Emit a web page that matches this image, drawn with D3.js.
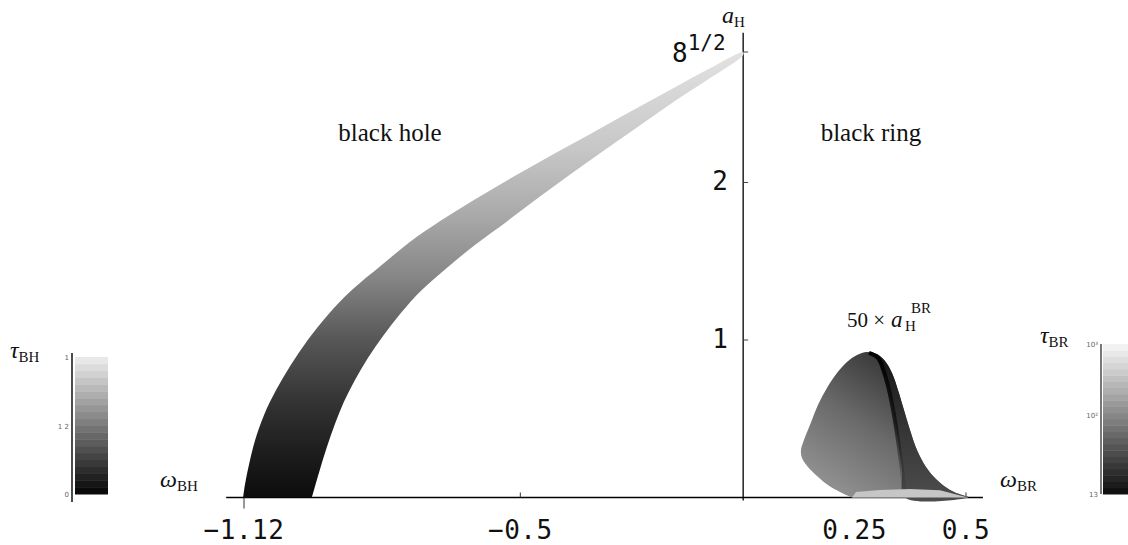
<!DOCTYPE html>
<html><head><meta charset="utf-8">
<script src="https://cdn.jsdelivr.net/npm/d3@7"></script>
<style>body{margin:0;background:#fff}</style>
</head><body>
<svg id="c" width="1128" height="545"></svg>
<script>
// ---------- data ----------
const xTicks = [-1.12, -0.5, 0.25, 0.5];
const xTickLabels = ["\u22121.12", "\u22120.5", "0.25", "0.5"];
const yTicks = [1, 2, Math.sqrt(8)];
const yTickLabels = ["1", "2", "8"];

// black hole band: upper/left edge (bottom -> top), lower/right edge (top -> bottom)
const bhUpperEdge = [[-1.122,0.0],[-1.118,0.079],[-1.109,0.206],[-1.095,0.365],[-1.075,0.524],[-1.048,0.682],[-1.015,0.841],[-0.977,1.000],[-0.932,1.159],[-0.878,1.317],[-0.811,1.476],[-0.748,1.622],[-0.680,1.755],[-0.606,1.886],[-0.530,2.013],[-0.456,2.132],[-0.382,2.247],[-0.306,2.366],[-0.232,2.482],[-0.158,2.597],[-0.081,2.715],[0.0,2.828]];
const bhLowerEdge = [[0.0,2.809],[-0.081,2.650],[-0.158,2.508],[-0.232,2.362],[-0.306,2.216],[-0.382,2.063],[-0.456,1.911],[-0.530,1.753],[-0.602,1.603],[-0.665,1.457],[-0.721,1.317],[-0.768,1.171],[-0.808,1.025],[-0.842,0.886],[-0.871,0.746],[-0.896,0.606],[-0.916,0.467],[-0.934,0.321],[-0.950,0.175],[-0.963,0.048],[-0.968,0.0]];
const bhShade = [[0,"#0c0c0c"],[0.3,"#1e1e1e"],[0.6,"#333333"],[1.0,"#575757"],[1.4,"#868686"],[1.8,"#aaaaaa"],[2.2,"#c6c6c6"],[2.6,"#d8d8d8"],[2.83,"#e2e2e2"]];

// black ring region (50 x a_H)
const brOutline = [[0.2442,0.0],[0.2172,0.035],[0.1903,0.079],[0.1656,0.137],[0.1454,0.194],[0.1320,0.251],[0.1297,0.302],[0.1364,0.365],[0.1499,0.460],[0.1678,0.587],[0.1880,0.695],[0.2105,0.790],[0.2329,0.860],[0.2554,0.905],[0.2778,0.924],[0.3002,0.911],[0.3182,0.867],[0.3339,0.790],[0.3473,0.683],[0.3608,0.556],[0.3743,0.429],[0.3900,0.302],[0.4102,0.194],[0.4349,0.111],[0.4641,0.048],[0.4910,0.016],[0.5045,0.003],[0.5045,0.0]];
const brStreak = [[0.2823,0.918],[0.3025,0.886],[0.3160,0.797],[0.3272,0.683],[0.3384,0.524],[0.3473,0.365],[0.3563,0.175],[0.3631,0.0]];
const brRightEdge = [[0.5045,0.0],[0.5045,0.003],[0.4910,0.016],[0.4641,0.048],[0.4349,0.111],[0.4102,0.194],[0.3900,0.302],[0.3743,0.429],[0.3608,0.556],[0.3473,0.683],[0.3339,0.790],[0.3182,0.867],[0.3002,0.911]];
const brBottomDots = [[0.2442,0.0],[0.2532,0.035],[0.3070,0.048],[0.3743,0.054],[0.4416,0.046],[0.4865,0.013],[0.5045,0.0]];

const bhBarTicks = [[0,"0"],[0.5,"1 2"],[1,"1"]];
const brBarTicks = [[0,"13"],[0.53,"10\u00b2"],[1,"10\u00b3"]];

// ---------- drawing ----------
const svg = d3.select("#c");
const x = d3.scaleLinear().domain([-1.12, 0.5]).range([244, 966]);
const y = d3.scaleLinear().domain([0, Math.sqrt(8)]).range([497.5, 52]);
const defs = svg.append("defs");
const serif = "'Liberation Serif','DejaVu Serif',serif";
const mono = "'DejaVu Sans Mono',monospace";

// axes lines
svg.append("line").attr("x1", x(-1.16)).attr("x2", x(0.538)).attr("y1", y(0)).attr("y2", y(0))
  .attr("stroke", "#000").attr("stroke-width", 1.3);
svg.append("line").attr("x1", x(0)).attr("x2", x(0)).attr("y1", y(2.95)).attr("y2", y(0) + 3)
  .attr("stroke", "#000").attr("stroke-width", 1.3);

// x ticks
xTicks.forEach((t, i) => {
  const down = i === 0;
  svg.append("line").attr("x1", x(t)).attr("x2", x(t))
    .attr("y1", y(0)).attr("y2", down ? y(0) + 11 : y(0) - 5)
    .attr("stroke", "#333").attr("stroke-width", 1);
  svg.append("text").attr("x", x(t)).attr("y", 539).attr("text-anchor", "middle")
    .attr("font-family", mono).attr("font-size", 26).attr("letter-spacing", 0.5)
    .attr("fill", "#111").text(xTickLabels[i]);
});
// y ticks
yTicks.forEach((t, i) => {
  svg.append("line").attr("x1", x(0)).attr("x2", x(0) + 5).attr("y1", y(t)).attr("y2", y(t))
    .attr("stroke", "#444").attr("stroke-width", 1);
  if (i < 2) {
    svg.append("text").attr("x", 720).attr("y", y(t) + 8).attr("text-anchor", "middle")
      .attr("font-family", mono).attr("font-size", 26).attr("fill", "#111").text(yTickLabels[i]);
  } else {
    const tx = svg.append("text").attr("x", 672).attr("y", y(t) + 10)
      .attr("font-family", mono).attr("font-size", 26).attr("fill", "#111");
    tx.append("tspan").text(yTickLabels[i]);
    tx.append("tspan").attr("dy", -12).attr("font-size", 21).text("1/2");
  }
});

// black hole band
const gBH = defs.append("linearGradient").attr("id", "gbh").attr("gradientUnits", "userSpaceOnUse")
  .attr("x1", 0).attr("x2", 0).attr("y1", y(0)).attr("y2", y(Math.sqrt(8)));
bhShade.forEach(s => gBH.append("stop").attr("offset", s[0] / Math.sqrt(8)).attr("stop-color", s[1]));
const line = d3.line().x(d => x(d[0])).y(d => y(d[1])).curve(d3.curveCatmullRom.alpha(0.5));
const lineLin = d3.line().x(d => x(d[0])).y(d => y(d[1]));
svg.append("path").attr("d", line(bhUpperEdge.concat(bhLowerEdge)) + "Z").attr("fill", "url(#gbh)");

// black ring
const gBR = defs.append("linearGradient").attr("id", "gbr").attr("gradientUnits", "userSpaceOnUse")
  .attr("x1", x(0.14)).attr("y1", y(0.2)).attr("x2", x(0.30)).attr("y2", y(0.9));
gBR.append("stop").attr("offset", 0).attr("stop-color", "#8e8e8e");
gBR.append("stop").attr("offset", 0.5).attr("stop-color", "#6a6a6a");
gBR.append("stop").attr("offset", 1).attr("stop-color", "#3a3a3a");
svg.append("path").attr("d", line(brOutline) + "Z").attr("fill", "url(#gbr)");

const gBRd = defs.append("linearGradient").attr("id", "gbrd").attr("gradientUnits", "userSpaceOnUse")
  .attr("x1", 0).attr("x2", 0).attr("y1", y(0.92)).attr("y2", y(0));
gBRd.append("stop").attr("offset", 0).attr("stop-color", "#151515");
gBRd.append("stop").attr("offset", 0.5).attr("stop-color", "#343434");
gBRd.append("stop").attr("offset", 1).attr("stop-color", "#4c4c4c");
svg.append("path").attr("d", line(brStreak.concat(brRightEdge)) + "Z").attr("fill", "url(#gbrd)");

const gStreak = defs.append("linearGradient").attr("id", "gst").attr("gradientUnits", "userSpaceOnUse")
  .attr("x1", 0).attr("x2", 0).attr("y1", y(0.92)).attr("y2", y(0));
gStreak.append("stop").attr("offset", 0).attr("stop-color", "#000").attr("stop-opacity", 1);
gStreak.append("stop").attr("offset", 0.5).attr("stop-color", "#111").attr("stop-opacity", 0.8);
gStreak.append("stop").attr("offset", 1).attr("stop-color", "#333").attr("stop-opacity", 0.1);
svg.append("path").attr("d", line(brStreak)).attr("fill", "none")
  .attr("stroke", "url(#gst)").attr("stroke-width", 4);

svg.append("path").attr("d", lineLin(brBottomDots) + "Z").attr("fill", "#c6c6c6");

// region labels
svg.append("text").attr("x", 390).attr("y", 141).attr("text-anchor", "middle")
  .attr("font-family", serif).attr("font-size", 25).attr("fill", "#111").text("black hole");
svg.append("text").attr("x", 871).attr("y", 141).attr("text-anchor", "middle")
  .attr("font-family", serif).attr("font-size", 25).attr("fill", "#111").text("black ring");

// math labels
function sym(px, py, main, sub, mainSize = 24) {
  const t = svg.append("text").attr("x", px).attr("y", py)
    .attr("font-family", serif).attr("font-size", mainSize).attr("fill", "#111");
  t.append("tspan").attr("font-style", "italic").text(main);
  if (sub) t.append("tspan").attr("font-size", 15).attr("dy", 4).text(sub);
  return t;
}
sym(160, 487, "\u03c9", "BH");
sym(1000, 487, "\u03c9", "BR");
sym(722, 23, "a", "H");
sym(10, 358, "\u03c4", "BH");
sym(1040, 343, "\u03c4", "BR");
// 50 x a_H^BR
svg.append("text").attr("x", 847).attr("y", 327).attr("font-family", serif)
  .attr("font-size", 21).attr("fill", "#111").text("50 \u00d7");
svg.append("text").attr("x", 891).attr("y", 327).attr("font-family", serif).attr("font-style", "italic")
  .attr("font-size", 23).attr("fill", "#111").text("a");
svg.append("text").attr("x", 905).attr("y", 331).attr("font-family", serif)
  .attr("font-size", 15).attr("fill", "#111").text("H");
svg.append("text").attr("x", 911).attr("y", 313).attr("font-family", serif)
  .attr("font-size", 15).attr("fill", "#111").text("BR");

// colorbars
function colorbar(x0, x1, y0, y1, n, c0, c1, axisX, ay0, ay1, stroke, sw, ticks) {
  const cb = d3.scaleLinear().domain([0, 1]).range([y1, y0]);
  const col = d3.interpolateRgb(c0, c1);
  const h = (y1 - y0) / n;
  d3.range(n).forEach(i => {
    svg.append("rect").attr("x", x0).attr("width", x1 - x0)
      .attr("y", y1 - (i + 1) * h).attr("height", h + 0.5)
      .attr("fill", col(i / (n - 1)));
  });
  svg.append("line").attr("x1", axisX).attr("x2", axisX).attr("y1", ay0).attr("y2", ay1)
    .attr("stroke", stroke).attr("stroke-width", sw);
  ticks.forEach(t => {
    svg.append("text").attr("x", axisX - 3).attr("y", cb(t[0]) + 3).attr("text-anchor", "end")
      .attr("font-family", "'DejaVu Sans',sans-serif").attr("font-size", 7).attr("fill", "#666").text(t[1]);
  });
}
colorbar(75, 108, 357, 494, 20, "#0a0a0a", "#e8e8e8", 72, 353, 502, "#111", 1.5, bhBarTicks);
colorbar(1103, 1128, 344, 494, 24, "#111111", "#f2f2f2", 1101, 344, 494, "#777", 2, brBarTicks);
</script>
</body></html>
